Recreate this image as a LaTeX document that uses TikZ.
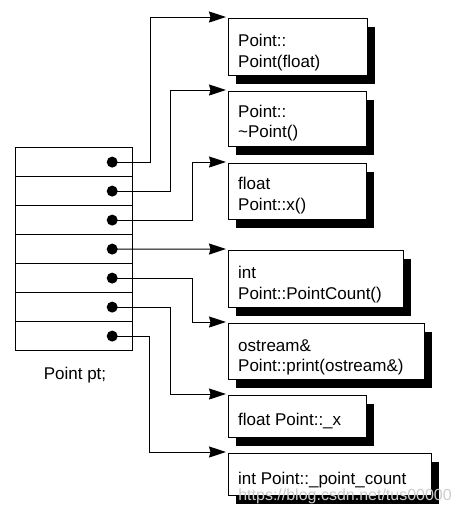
\documentclass[tikz,border=0pt]{standalone}
\usepackage{fontspec}
\setmainfont{Liberation Sans}
\usetikzlibrary{arrows.meta,shadows}
\begin{document}
\begin{tikzpicture}[x=1pt,y=-1pt,
  every node/.style={font=\fontsize{17}{21}\selectfont},
  fbox/.style={draw, line width=1pt, fill=white, rectangle, inner sep=0pt, anchor=north west,
    general shadow={fill=black, shadow xshift=7pt, shadow yshift=-8pt}},
  rowbox/.style={draw, line width=1.2pt, rectangle, inner sep=0pt, anchor=north west, minimum width=117pt, minimum height=29pt},
  dotmark/.style={circle, fill=black, inner sep=0pt, minimum size=11pt},
  txt/.style={anchor=base west, inner sep=0pt},
  conn/.style={line width=1pt, shorten >=2pt, -{Stealth[length=17pt,width=11pt,inset=1.5pt]}}
]
\useasboundingbox (0,0) rectangle (462,515);

% object table
\foreach \i in {1,...,7}{
  \node[rowbox] (r\i) at (15,{147+29*(\i-1)}) {};
}
\node[anchor=base, inner sep=0pt] (pt) at (75,379) {Point pt;};

% function / member boxes
\node[fbox, minimum width=139pt, minimum height=57pt] (b1) at (228,18) {};
\node[fbox, minimum width=138pt, minimum height=55pt] (b2) at (228,91) {};
\node[fbox, minimum width=138pt, minimum height=56pt] (b3) at (228,163) {};
\node[fbox, minimum width=175pt, minimum height=57pt] (b4) at (228,250) {};
\node[fbox, minimum width=196pt, minimum height=56pt] (b5) at (228,323) {};
\node[fbox, minimum width=138pt, minimum height=42pt] (b6) at (228,395) {};
\node[fbox, minimum width=203pt, minimum height=42pt] (b7) at (228,453) {};

\node[txt] (t1a) at ([shift={(10,28)}]b1.north west) {Point::};
\node[txt] (t1b) at ([shift={(10,49)}]b1.north west) {Point(float)};
\node[txt] (t2a) at ([shift={(10,26)}]b2.north west) {Point::};
\node[txt] (t2b) at ([shift={(10,46)}]b2.north west) {\textasciitilde Point()};
\node[txt] (t3a) at ([shift={(10,26)}]b3.north west) {float};
\node[txt] (t3b) at ([shift={(10,47)}]b3.north west) {Point::x()};
\node[txt] (t4a) at ([shift={(10,28)}]b4.north west) {int};
\node[txt] (t4b) at ([shift={(10,49)}]b4.north west) {Point::PointCount()};
\node[txt] (t5a) at ([shift={(10,28)}]b5.north west) {ostream\&};
\node[txt] (t5b) at ([shift={(10,48)}]b5.north west) {Point::print(ostream\&)};
\node[txt] (t6) at ([shift={(10,30)}]b6.north west) {float Point::\_x};
\node[txt] (t7) at ([shift={(10,31)}]b7.north west) {int Point::\_point\_count};

% dot positions
\foreach \i in {1,...,7}{
  \coordinate (c\i) at ([xshift=-21pt]r\i.east);
}

% connectors
\draw[conn] (c1) -- ++(38,0) |- ([yshift=1pt]b1.north west);
\draw[conn] (c2) -- ++(58,0) |- ([yshift=1pt]b2.north west);
\draw[conn] (c3) -- ++(80,0) |- ([yshift=1pt]b3.north west);
\draw[conn] (c4) -- ([yshift=1pt]b4.north west);
\draw[conn] (c5) -- ++(80,0) |- ([yshift=1pt]b5.north west);
\draw[conn] (c6) -- ++(58,0) |- ([yshift=1pt]b6.north west);
\draw[conn] (c7) -- ++(37,0) |- ([yshift=1pt]b7.north west);

\foreach \i in {1,...,7}{
  \node[dotmark] (d\i) at (c\i) {};
}

% watermark
\node[anchor=base east, inner sep=0pt, text=gray!40, font=\fontsize{16}{16}\selectfont] (wm) at (452,500) {https://blog.csdn.net/tus00000};
\end{tikzpicture}
\end{document}
